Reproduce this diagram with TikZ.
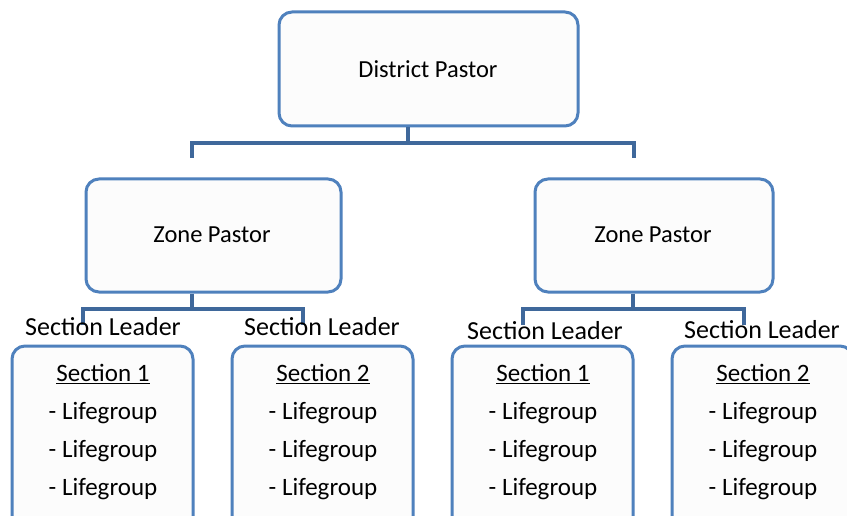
\documentclass[tikz,border=0pt]{standalone}
\usepackage{fontspec}
\setmainfont{Carlito}
\definecolor{boxblue}{RGB}{79,129,189}
\definecolor{linkblue}{RGB}{63,104,155}
\definecolor{boxfill}{RGB}{252,252,252}
\begin{document}
\begin{tikzpicture}[x=1pt,y=-1pt,
  box/.style={draw=boxblue, line width=3pt, rounded corners=13pt, fill=boxfill, inner sep=0pt},
  link/.style={draw=linkblue, line width=3.5pt},
  lbl/.style={font=\fontsize{24.5}{29}\selectfont, text=black, inner sep=0pt},
  leader/.style={font=\fontsize{26}{30}\selectfont, text=black, inner sep=0pt},
  sect/.style={font=\fontsize{25}{38}\selectfont, text=black, inner sep=0pt, align=center}]
\useasboundingbox[fill=white] (0,0) rectangle (847,516);

% boxes
\node[box, minimum width=299pt, minimum height=114pt] (dp) at (428.5,69) {};
\node[box, minimum width=255pt, minimum height=113pt] (zl) at (213.5,235.5) {};
\node[box, minimum width=238pt, minimum height=113pt] (zr) at (654,235.5) {};
\node[box, minimum width=181pt, minimum height=190pt] (s1) at (102.5,441) {};
\node[box, minimum width=181pt, minimum height=190pt] (s2) at (322.5,441) {};
\node[box, minimum width=181pt, minimum height=190pt] (s3) at (542.5,441) {};
\node[box, minimum width=181pt, minimum height=190pt] (s4) at (762.5,441) {};

% junction coordinates
\coordinate (dpj) at (408,143);
\coordinate (ba) at (192,143);
\coordinate (bb) at (634,143);
\coordinate (za) at (192,158);
\coordinate (zb) at (634,158);
\coordinate (zlj) at (192,309);
\coordinate (la) at (83,309);
\coordinate (lb) at (303,309);
\coordinate (lae) at (83,325);
\coordinate (lbe) at (303,325);
\coordinate (zrj) at (633,309);
\coordinate (ra) at (523,309);
\coordinate (rb) at (744,309);
\coordinate (rae) at (523,325);
\coordinate (rbe) at (744,325);

% connectors
\draw[link] (dp.south -| dpj) -- (dpj);
\draw[link] (za) -- (ba) -- (bb) -- (zb);
\draw[link] (zl.south -| zlj) -- (zlj);
\draw[link] (lae) -- (la) -- (lb) -- (lbe);
\draw[link] (zr.south -| zrj) -- (zrj);
\draw[link] (rae) -- (ra) -- (rb) -- (rbe);

% texts
\node[lbl] (dpt) at (428,69) {District Pastor};
\node[lbl] (zlt) at (212,235) {Zone Pastor};
\node[lbl] (zrt) at (653,235) {Zone Pastor};
\node[leader] (l1) at (103,327) {Section Leader};
\node[leader] (l2) at (322,327) {Section Leader};
\node[leader] (l3) at (545,331) {Section Leader};
\node[leader] (l4) at (762,330) {Section Leader};

\node[sect] (t1) at (103,432.5) {\underline{Section 1}\\- Lifegroup\\- Lifegroup\\- Lifegroup};
\node[sect] (t2) at (323,432.5) {\underline{Section 2}\\- Lifegroup\\- Lifegroup\\- Lifegroup};
\node[sect] (t3) at (543,432.5) {\underline{Section 1}\\- Lifegroup\\- Lifegroup\\- Lifegroup};
\node[sect] (t4) at (763,432.5) {\underline{Section 2}\\- Lifegroup\\- Lifegroup\\- Lifegroup};
\end{tikzpicture}
\end{document}
